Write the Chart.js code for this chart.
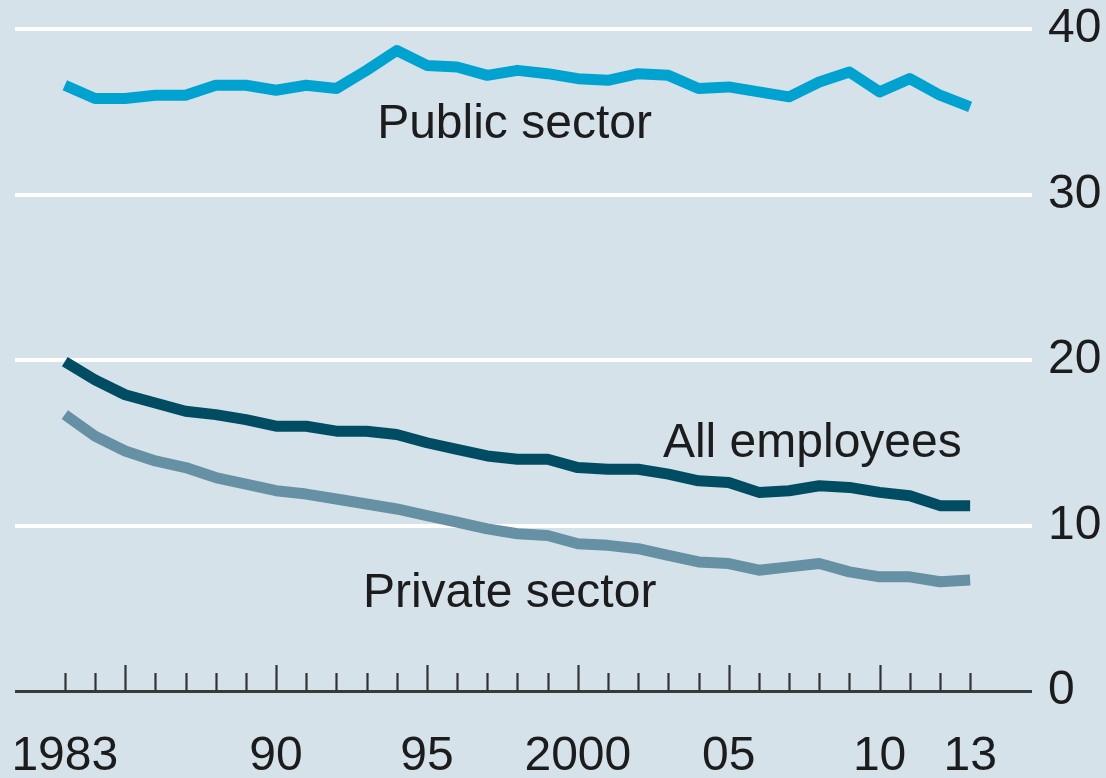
<!DOCTYPE html>
<html>
<head>
<meta charset="utf-8">
<script src="https://cdn.jsdelivr.net/npm/chart.js@4.4.1/dist/chart.umd.min.js"></script>
<style>
  html, body { margin: 0; padding: 0; background: #d6e2ea; }
  canvas { display: block; }
</style>
</head>
<body>
<canvas id="chart" width="1106" height="778"></canvas>
<script>
// values, % of employees
const years = [1983, 1984, 1985, 1986, 1987, 1988, 1989, 1990, 1991, 1992, 1993, 1994, 1995, 1996, 1997,
  1998, 1999, 2000, 2001, 2002, 2003, 2004, 2005, 2006, 2007, 2008, 2009, 2010, 2011, 2012, 2013];
const publicSector = [36.6, 35.8, 35.8, 36.0, 36.0, 36.6, 36.6, 36.3, 36.6, 36.4, 37.5, 38.7, 37.8, 37.7, 37.2,
  37.5, 37.3, 37.0, 36.9, 37.3, 37.2, 36.4, 36.5, 36.2, 35.9, 36.8, 37.4, 36.2, 37.0, 36.0, 35.3];
const allEmployees = [19.9, 18.8, 17.9, 17.4, 16.9, 16.7, 16.4, 16.0, 16.0, 15.7, 15.7, 15.5, 15.0, 14.6, 14.2,
  14.0, 14.0, 13.5, 13.4, 13.4, 13.1, 12.7, 12.6, 12.0, 12.1, 12.4, 12.3, 12.0, 11.8, 11.2, 11.2];
const privateSector = [16.7, 15.4, 14.5, 13.9, 13.5, 12.9, 12.5, 12.1, 11.9, 11.6, 11.3, 11.0, 10.6, 10.2, 9.8,
  9.5, 9.4, 8.9, 8.8, 8.6, 8.2, 7.8, 7.7, 7.3, 7.5, 7.7, 7.2, 6.9, 6.9, 6.6, 6.7];
const yTicks = [0, 10, 20, 30, 40];
const xLabelYears = [1983, 1990, 1995, 2000, 2005, 2010, 2013];
const xLabelText = ['1983', '90', '95', '2000', '05', '10', '13'];

const FONT = "'Liberation Sans', Arial, sans-serif";
const TEXT = '#1c1c1c';

function pts(vals) {
  return years.map((y, i) => ({ x: y, y: vals[i] }));
}

function noPad(s) {
  s.paddingLeft = 0; s.paddingRight = 0; s.paddingTop = 0; s.paddingBottom = 0;
}

// small upward tick marks on the zero line + series names
const decor = {
  id: 'decor',
  afterDraw(chart) {
    const ctx = chart.ctx;
    const xs = chart.scales.x, ys = chart.scales.y;
    const base = ys.getPixelForValue(0);
    ctx.save();
    ctx.strokeStyle = '#333';
    ctx.lineWidth = 2.2;
    years.forEach(yr => {
      const px = Math.round(xs.getPixelForValue(yr)) + 0.5;
      const len = yr % 5 === 0 ? 26 : 18;
      ctx.beginPath();
      ctx.moveTo(px, base);
      ctx.lineTo(px, base - len);
      ctx.stroke();
    });
    ctx.fillStyle = TEXT;
    ctx.font = '48px ' + FONT;
    ctx.textAlign = 'left';
    ctx.textBaseline = 'alphabetic';
    [
      ['Public sector', 1993.35, 33.4],
      ['All employees', 2002.82, 14.14],
      ['Private sector', 1992.88, 5.08]
    ].forEach(([t, x, y]) => {
      ctx.fillText(t, xs.getPixelForValue(x), ys.getPixelForValue(y));
    });
    ctx.restore();
  }
};

new Chart(document.getElementById('chart'), {
  type: 'line',
  data: {
    datasets: [
      { label: 'Public sector', data: pts(publicSector), borderColor: '#00a3cf' },
      { label: 'All employees', data: pts(allEmployees), borderColor: '#004d63' },
      { label: 'Private sector', data: pts(privateSector), borderColor: '#6690a3' }
    ]
  },
  options: {
    responsive: false,
    animation: false,
    layout: { padding: { left: 15, top: 29, right: 0, bottom: 0 } },
    elements: {
      line: { borderWidth: 11, tension: 0, borderJoinStyle: 'round', borderCapStyle: 'butt' },
      point: { radius: 0 }
    },
    datasets: { line: { clip: false } },
    plugins: { legend: { display: false }, tooltip: { enabled: false } },
    scales: {
      x: {
        type: 'linear',
        min: 1981.35,
        max: 2015.05,
        grid: { display: false },
        border: { display: false },
        afterBuildTicks: s => { s.ticks = years.map(v => ({ value: v })); },
        afterFit: s => { s.height = 87; noPad(s); },
        ticks: {
          autoSkip: false,
          maxRotation: 0,
          padding: 29,
          color: TEXT,
          font: { family: FONT, size: 48 },
          callback: v => {
            const i = xLabelYears.indexOf(v);
            return i >= 0 ? xLabelText[i] : '';
          }
        }
      },
      y: {
        position: 'right',
        min: 0,
        max: 40,
        border: { display: false },
        afterBuildTicks: s => { s.ticks = yTicks.map(v => ({ value: v })); },
        afterFit: s => { s.width = 74; noPad(s); },
        grid: {
          drawTicks: false,
          color: c => c.tick.value === 0 ? '#3a3a3a' : '#ffffff',
          lineWidth: c => c.tick.value === 0 ? 3 : 4
        },
        ticks: {
          padding: 16,
          color: TEXT,
          font: { family: FONT, size: 48 }
        }
      }
    }
  },
  plugins: [decor]
});
</script>
</body>
</html>
